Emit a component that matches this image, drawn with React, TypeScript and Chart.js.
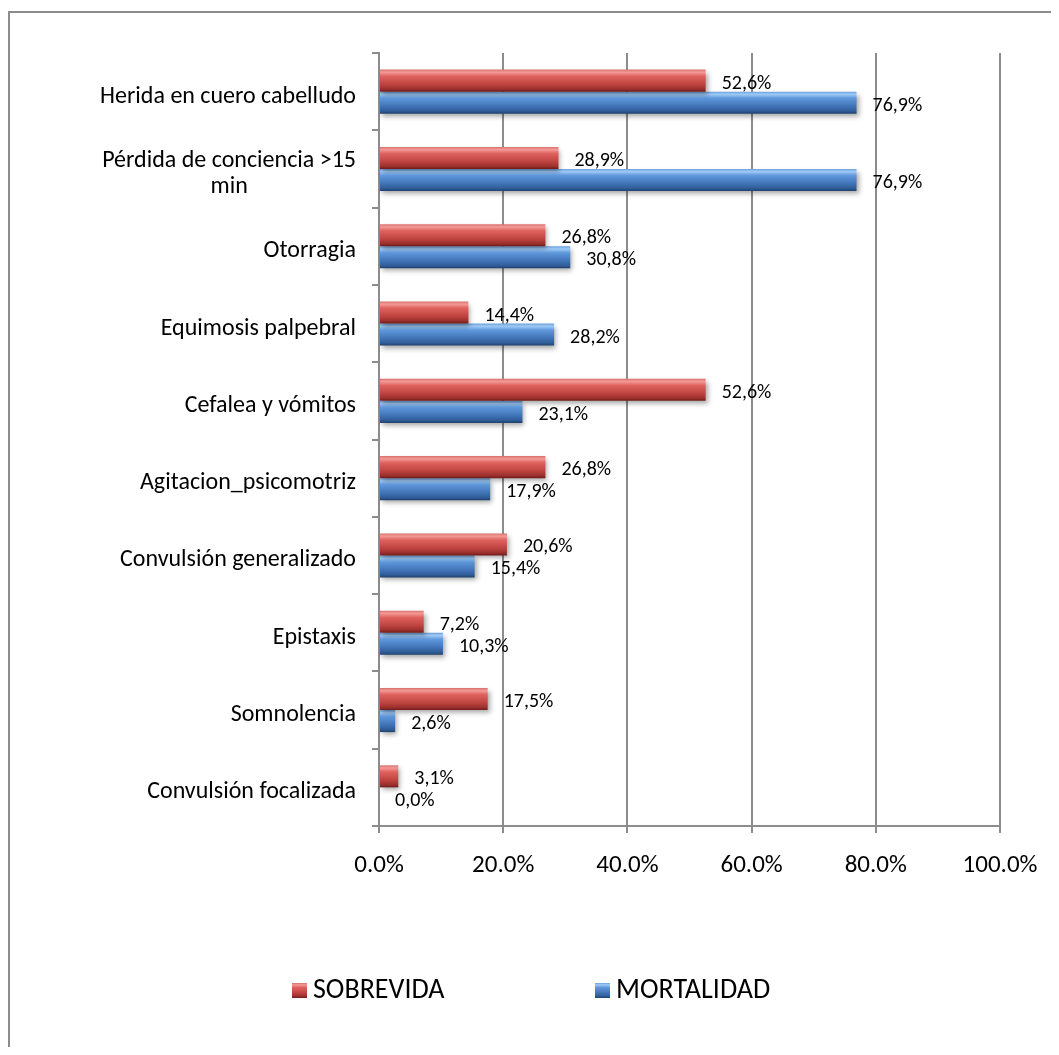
import React, { useEffect, useRef } from "react";
import { Chart, registerables } from "chart.js";

Chart.register(...registerables);

const categories: (string | string[])[] = [
  "Herida en cuero cabelludo",
  ["Pérdida de conciencia >15", "min"],
  "Otorragia",
  "Equimosis palpebral",
  "Cefalea y vómitos",
  "Agitacion_psicomotriz",
  "Convulsión generalizado",
  "Epistaxis",
  "Somnolencia",
  "Convulsión focalizada",
];

const sobrevida = [52.6, 28.9, 26.8, 14.4, 52.6, 26.8, 20.6, 7.2, 17.5, 3.1];
const mortalidad = [76.9, 76.9, 30.8, 28.2, 23.1, 17.9, 15.4, 10.3, 2.6, 0.0];

const seriesNames = ["SOBREVIDA", "MORTALIDAD"];
const xTicks = [0, 20, 40, 60, 80, 100];

const FONT = "Carlito, Lato, 'Liberation Sans', sans-serif";
const CAT_PCT = 0.57;

const redStops: [number, string][] = [
  [0, "#d8716d"],
  [0.12, "#f39a96"],
  [0.3, "#df625e"],
  [0.65, "#c04541"],
  [0.88, "#9c302d"],
  [1, "#6e1c1a"],
];
const blueStops: [number, string][] = [
  [0, "#6a9fdc"],
  [0.12, "#9fcaf6"],
  [0.3, "#5f98dc"],
  [0.65, "#4275b8"],
  [0.88, "#2f5d98"],
  [1, "#1f416c"],
];

function makeGrad(ctx: CanvasRenderingContext2D, top: number, h: number, stops: [number, string][]) {
  const g = ctx.createLinearGradient(0, top, 0, top + h);
  stops.forEach(([o, c]) => g.addColorStop(o, c));
  return g;
}

function barBg(stops: [number, string][], solid: string) {
  return (c: any) => {
    const chart = c.chart;
    const ys = chart.scales?.y;
    if (!chart.chartArea || !ys || c.dataIndex === undefined) return solid;
    const center = ys.getPixelForValue(c.dataIndex);
    const catW = ys.height / categories.length;
    const barH = (catW * CAT_PCT) / 2;
    const top = c.datasetIndex === 0 ? center - barH : center;
    return makeGrad(chart.ctx, top, barH, stops);
  };
}

const shadowPlugin = {
  id: "barShadow",
  beforeDatasetsDraw(chart: any) {
    const ctx = chart.ctx;
    ctx.save();
    ctx.shadowColor = "rgba(0,0,0,0.35)";
    ctx.shadowBlur = 5;
    ctx.shadowOffsetX = 2;
    ctx.shadowOffsetY = 3;
  },
  afterDatasetsDraw(chart: any) {
    chart.ctx.restore();
  },
};

const labelsPlugin = {
  id: "customLabels",
  afterDraw(chart: any) {
    const ctx = chart.ctx;
    const ys = chart.scales.y;
    const area = chart.chartArea;
    ctx.save();
    // data labels
    ctx.font = `20px ${FONT}`;
    ctx.fillStyle = "#000";
    ctx.textAlign = "left";
    ctx.textBaseline = "middle";
    chart.data.datasets.forEach((ds: any, di: number) => {
      const meta = chart.getDatasetMeta(di);
      meta.data.forEach((el: any, i: number) => {
        const v = ds.data[i] as number;
        const t = v.toFixed(1).replace(".", ",") + "%";
        ctx.fillText(t, el.x + 16, el.y + 3);
      });
    });
    // category labels
    ctx.font = `24px ${FONT}`;
    const right = area.left - 23;
    const lh = 26;
    categories.forEach((lab, i) => {
      const lines = Array.isArray(lab) ? lab : [lab];
      const cy = ys.getPixelForValue(i) + 5;
      const widths = lines.map((l) => ctx.measureText(l).width);
      const maxW = Math.max(...widths);
      const startY = cy - ((lines.length - 1) * lh) / 2;
      lines.forEach((l, k) => {
        if (lines.length > 1) {
          ctx.textAlign = "center";
          ctx.fillText(l, right - maxW / 2, startY + k * lh);
        } else {
          ctx.textAlign = "right";
          ctx.fillText(l, right, startY);
        }
      });
    });
    // legend
    const ly = area.bottom + 164;
    const items = [
      { name: seriesNames[0], stops: redStops, x: 282 },
      { name: seriesNames[1], stops: blueStops, x: 585 },
    ];
    ctx.textAlign = "left";
    ctx.font = `28px ${FONT}`;
    items.forEach((it) => {
      ctx.fillStyle = makeGrad(ctx, ly - 7, 15, it.stops);
      ctx.fillRect(it.x, ly - 7, 15, 15);
      ctx.fillStyle = "#000";
      ctx.fillText(it.name, it.x + 21, ly + 1);
    });
    ctx.restore();
  },
};

export default function App() {
  const ref = useRef<HTMLCanvasElement | null>(null);
  useEffect(() => {
    if (!ref.current) return;
    const chart = new Chart(ref.current, {
      type: "bar",
      data: {
        labels: categories.map((c) => (Array.isArray(c) ? c.join(" ") : c)),
        datasets: [
          {
            label: seriesNames[0],
            data: sobrevida,
            backgroundColor: barBg(redStops, "#c0504d"),
            borderWidth: 0,
            categoryPercentage: CAT_PCT,
            barPercentage: 1,
          },
          {
            label: seriesNames[1],
            data: mortalidad,
            backgroundColor: barBg(blueStops, "#4f81bd"),
            borderWidth: 0,
            categoryPercentage: CAT_PCT,
            barPercentage: 1,
          },
        ],
      },
      options: {
        indexAxis: "y",
        responsive: false,
        maintainAspectRatio: false,
        animation: false,
        layout: { padding: { top: 40, right: 51, bottom: 141, left: 0 } },
        plugins: {
          legend: { display: false },
          tooltip: { enabled: false },
        },
        scales: {
          x: {
            type: "linear",
            min: 0,
            max: 100,
            afterBuildTicks: (s: any) => {
              s.ticks = xTicks.map((v) => ({ value: v }));
            },
            afterFit: (s: any) => {
              s.height = 80;
              s.paddingLeft = 0;
              s.paddingRight = 0;
            },
            grid: {
              color: "#8c8c8c",
              lineWidth: 2,
              drawTicks: true,
              tickLength: 7,
            },
            border: { display: true, color: "#8c8c8c", width: 2 },
            ticks: {
              padding: 18,
              color: "#000",
              font: { family: FONT, size: 25 },
              maxRotation: 0,
              callback: (v: any) => Number(v).toFixed(1) + "%",
            },
          },
          y: {
            type: "category",
            offset: true,
            afterFit: (s: any) => {
              s.width = 369;
              s.paddingTop = 0;
              s.paddingBottom = 0;
            },
            grid: {
              offset: true,
              drawOnChartArea: false,
              drawTicks: true,
              tickLength: 7,
              color: "#8c8c8c",
              lineWidth: 2,
            },
            border: { display: true, color: "#8c8c8c", width: 2 },
            ticks: { display: false },
          },
        },
      },
      plugins: [shadowPlugin, labelsPlugin],
    });
    return () => chart.destroy();
  }, []);

  return (
    <div style={{ paddingTop: 3 }}>
      <div
        style={{
          borderTop: "2px solid #8c8c8c",
          borderLeft: "2px solid #8c8c8c",
          background: "#fff",
        }}
      >
        <canvas ref={ref} width={1041} height={1034} style={{ display: "block" }} />
      </div>
    </div>
  );
}
